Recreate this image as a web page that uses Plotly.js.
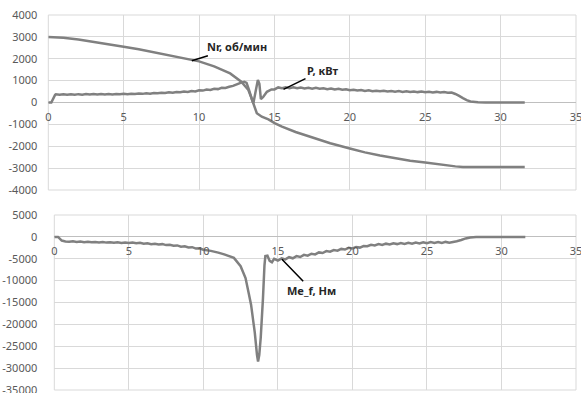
<!DOCTYPE html>
<html>
<head>
<meta charset="utf-8">
<script src="https://cdn.plot.ly/plotly-3.0.1.min.js"></script>
<style>html,body{margin:0;padding:0;background:#fff;}#chart{width:581px;height:393px;}</style>
</head>
<body>
<div id="chart"></div>
<script>
// ---- data ----
const nrT = [0,1,2,3,4,5,6,7,8,9,10,11,11.7,12.06,12.8,13.27,13.45,13.6,13.83,14.16,14.6,15.04,15.5,16.4,17.5,18.7,20,21,22,23,24,25,26,27,27.5,31.6];
const nrV = [3000,2960,2880,2780,2670,2550,2430,2300,2170,2030,1880,1650,1450,1330,950,570,250,-40,-490,-650,-770,-950,-1100,-1350,-1600,-1860,-2100,-2280,-2420,-2550,-2660,-2740,-2840,-2920,-2950,-2950];

const pT = [0,0.2,0.45,0.5,0.75,1,1.25,1.5,1.75,2,2.25,2.5,2.75,3,3.25,3.5,3.75,4,4.25,4.5,4.75,5,5.25,5.5,5.75,6,6.25,6.5,6.75,7,7.25,7.5,7.75,8,8.25,8.5,8.75,9,9.25,9.5,9.75,10,10.25,10.5,10.75,11,11.25,11.5,11.75,12,12.25,12.5,12.75,13,13.15,13.3,13.5,13.6,13.75,13.9,14,14.1,14.25,14.5,14.8,15,15.25,15.5,15.75,16,16.25,16.5,16.75,17,17.25,17.5,17.75,18,18.25,18.5,18.75,19,19.25,19.5,19.75,20,20.25,20.5,20.75,21,21.25,21.5,21.75,22,22.25,22.5,22.75,23,23.25,23.5,23.75,24,24.25,24.5,24.75,25,25.25,25.5,25.75,26,26.25,26.5,26.75,27,27.25,27.5,27.75,28,28.5,29,30,31.6];
const pV = [0,0,350,375,350,380,355,378,355,382,360,388,365,388,365,390,368,390,370,392,372,395,378,402,385,412,395,422,405,437,420,447,430,463,448,482,465,502,485,525,505,560,545,595,575,630,612,670,662,720,760,830,900,950,900,600,150,-40,500,1030,850,150,250,490,600,600,690,655,695,655,692,650,688,645,678,635,668,625,655,610,640,595,625,580,605,560,585,545,570,530,555,520,540,510,535,500,525,495,520,485,515,480,505,475,500,470,495,460,485,455,475,445,455,390,300,200,110,50,15,5,0,0];

const meT = [0,0.25,0.5,0.75,1,1.25,1.5,1.75,2,2.25,2.5,2.75,3,3.25,3.5,3.75,4,4.25,4.5,4.75,5,5.25,5.5,5.75,6,6.25,6.5,6.75,7,7.25,7.5,7.75,8,8.25,8.5,8.75,9,9.25,9.5,9.75,10,10.5,11,11.4,12.05,12.5,12.83,13.05,13.2,13.45,13.6,13.67,13.75,13.85,14,14.1,14.16,14.3,14.45,14.6,14.75,15,15.25,15.5,15.75,16,16.25,16.5,16.75,17,17.25,17.5,17.75,18,18.25,18.5,18.75,19,19.25,19.5,19.75,20,20.25,20.5,20.75,21,21.25,21.5,21.75,22,22.25,22.5,22.75,23,23.25,23.5,23.75,24,24.25,24.5,24.75,25,25.25,25.5,25.75,26,26.25,26.5,26.75,27,27.3,27.6,27.9,28.3,29,31.6];
const meV = [0,0,-850,-1050,-1120,-1020,-1160,-1060,-1200,-1100,-1250,-1150,-1270,-1170,-1310,-1210,-1350,-1250,-1370,-1270,-1410,-1310,-1460,-1360,-1560,-1460,-1660,-1560,-1760,-1660,-1880,-1790,-2030,-1950,-2230,-2150,-2430,-2350,-2680,-2600,-2950,-3200,-3600,-4000,-4800,-6700,-9400,-13000,-15500,-21900,-27000,-28500,-27000,-23000,-14000,-6500,-4400,-4300,-5500,-5800,-5000,-5400,-4900,-5150,-4650,-4900,-4400,-4600,-4100,-4300,-3850,-4000,-3550,-3700,-3250,-3400,-3000,-3150,-2750,-2900,-2500,-2650,-2300,-2450,-2100,-2150,-1800,-1950,-1650,-1850,-1550,-1750,-1450,-1650,-1400,-1600,-1350,-1550,-1300,-1500,-1250,-1450,-1200,-1400,-1200,-1380,-1150,-1350,-1150,-1000,-700,-350,-150,-50,0,0];

const xTicks = [0,5,10,15,20,25,30,35];
const xTickText = ['0','5','10','15','20','25','30','35'];
const y1Ticks = [4000,3000,2000,1000,0,-1000,-2000,-3000,-4000];
const y1TickText = ['4000','3000','2000','1000','0','-1000','-2000','-3000','-4000'];
const y2Ticks = [5000,0,-5000,-10000,-15000,-20000,-25000,-30000,-35000];
const y2TickText = ['5000','0','-5000','-10000','-15000','-20000','-25000','-30000','-35000'];

const labelNr = 'Nr, об/мин';
const labelP = 'P, кВт';
const labelMe = 'Me_f, Нм';

// ---- styles ----
const lineColor = '#808080';
const gridColor = '#d9d9d9';
const tickFont = {family: 'Noto Sans, Open Sans, sans-serif', size: 11, color: '#595959'};
const annFont = {family: 'Noto Sans, Open Sans, sans-serif', size: 11, color: '#262626'};

const traces = [
  {x: nrT, y: nrV, xaxis: 'x', yaxis: 'y', mode: 'lines', line: {color: lineColor, width: 2.5}, name: labelNr, hoverinfo: 'skip'},
  {x: pT, y: pV, xaxis: 'x', yaxis: 'y', mode: 'lines', line: {color: lineColor, width: 2.5, simplify: false}, name: labelP, hoverinfo: 'skip'},
  {x: meT, y: meV, xaxis: 'x2', yaxis: 'y2', mode: 'lines', line: {color: lineColor, width: 2.5, simplify: false}, name: labelMe, hoverinfo: 'skip'}
];

const W = 581, H = 393;
const mL = 0, mR = 5, mT = 15, mB = 3;
const pw = W - mL - mR, ph = H - mT - mB;
const y1Dom = [(390 - 190) / ph, 1];
const y2Dom = [0, (390 - 215) / ph];
function zeroPos(dom, range) { return dom[0] + (dom[1] - dom[0]) * (0 - range[0]) / (range[1] - range[0]); }
const y1Range = [-4000, 4000], y2Range = [-35000, 5000];

function xAxis(dom, pos) {
  return {domain: dom, range: [0, 35], tickmode: 'array', tickvals: xTicks, ticktext: xTickText,
    showgrid: true, gridcolor: gridColor, gridwidth: 1, zeroline: false, showline: false,
    anchor: 'free', position: pos, ticks: '', tickfont: tickFont, ticklabelstandoff: 6,
    ticklabeloverflow: 'allow', fixedrange: true};
}
function yAxis(dom, range, vals, text) {
  return {domain: dom, range: range, tickmode: 'array', tickvals: vals, ticktext: text,
    showgrid: true, gridcolor: gridColor, gridwidth: 1, zeroline: true, zerolinecolor: '#bfbfbf', zerolinewidth: 1,
    showline: false, ticks: '', tickfont: tickFont, ticklabelstandoff: 10,
    ticklabeloverflow: 'allow', fixedrange: true};
}

const layout = {
  width: W, height: H, margin: {l: mL, r: mR, t: mT, b: mB},
  paper_bgcolor: '#fff', plot_bgcolor: '#fff', showlegend: false,
  xaxis: xAxis([48.3 / pw, 1], zeroPos(y1Dom, y1Range)),
  yaxis: yAxis(y1Dom, y1Range, y1Ticks, y1TickText),
  xaxis2: xAxis([54.3 / pw, 1], zeroPos(y2Dom, y2Range)),
  yaxis2: yAxis(y2Dom, y2Range, y2Ticks, y2TickText),
  shapes: [
    {type: 'rect', xref: 'x domain', yref: 'y domain', x0: 0, x1: 1, y0: 0, y1: 1, line: {color: gridColor, width: 1}, layer: 'below'},
    {type: 'rect', xref: 'x2 domain', yref: 'y2 domain', x0: 0, x1: 1, y0: 0, y1: 1, line: {color: gridColor, width: 1}, layer: 'below'}
  ],
  annotations: [
    {xref: 'x', yref: 'y', x: 9.52, y: 1910, text: '<b>' + labelNr + '</b>', showarrow: true, arrowhead: 0, arrowwidth: 1.5, arrowcolor: '#000', ax: 45, ay: -14, font: annFont, standoff: 0},
    {xref: 'x', yref: 'y', x: 15.6, y: 600, text: '<b>' + labelP + '</b>', showarrow: true, arrowhead: 0, arrowwidth: 1.5, arrowcolor: '#000', ax: 39, ay: -19, font: annFont, standoff: 0},
    {xref: 'x2', yref: 'y2', x: 15.27, y: -5100, text: '<b>' + labelMe + '</b>', showarrow: true, arrowhead: 0, arrowwidth: 1.5, arrowcolor: '#000', ax: 30, ay: 31, font: annFont, standoff: 0}
  ]
};

Plotly.newPlot('chart', traces, layout, {displayModeBar: false, staticPlot: true});
</script>
</body>
</html>
